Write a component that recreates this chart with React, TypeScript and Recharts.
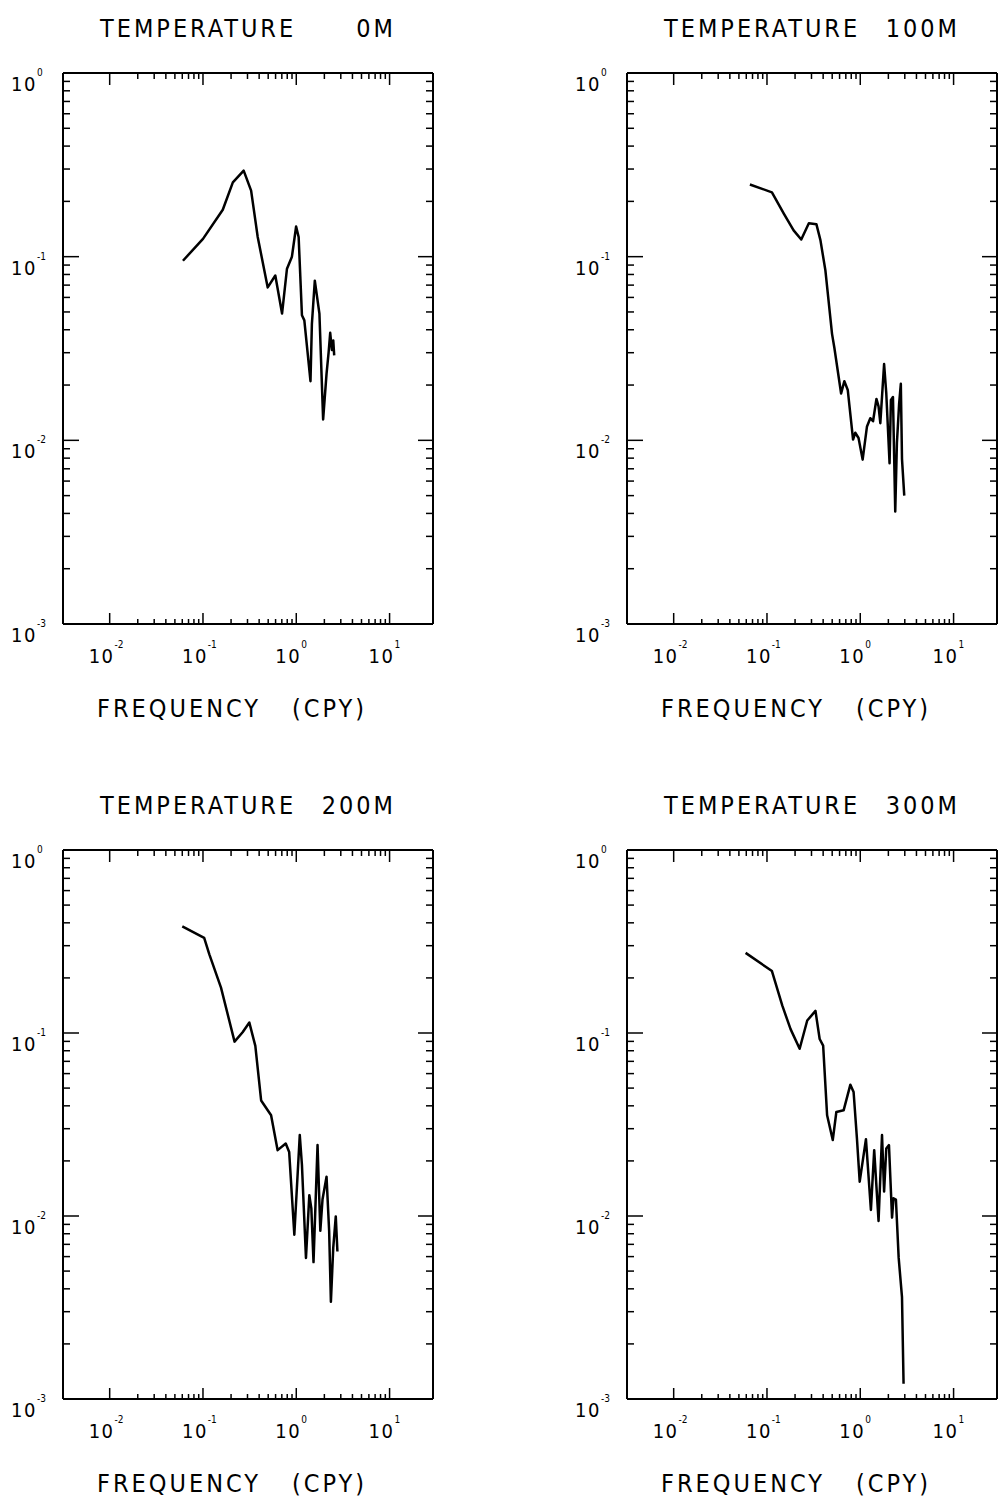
import React from "react";
import { LineChart, Line, XAxis, YAxis } from "recharts";

// log-log spectra of temperature at four depths, frequency in cycles per year
const FREQ_0M = [0.061, 0.1, 0.163, 0.209, 0.273, 0.328, 0.386, 0.494, 0.596, 0.704, 0.795, 0.898, 0.996, 1.06, 1.15, 1.22, 1.42, 1.47, 1.58, 1.77, 1.94, 2.11, 2.22, 2.31, 2.41, 2.49, 2.55];
const PSD_0M = [0.095, 0.125, 0.18, 0.254, 0.294, 0.229, 0.128, 0.068, 0.079, 0.049, 0.086, 0.1, 0.146, 0.128, 0.048, 0.045, 0.021, 0.043, 0.074, 0.049, 0.013, 0.023, 0.03, 0.0385, 0.031, 0.035, 0.029];

const FREQ_100M = [0.0656, 0.0888, 0.113, 0.152, 0.193, 0.233, 0.281, 0.339, 0.374, 0.423, 0.498, 0.527, 0.623, 0.675, 0.734, 0.837, 0.884, 0.958, 1.06, 1.18, 1.28, 1.37, 1.49, 1.57, 1.64, 1.8, 1.9, 2.06, 2.13, 2.24, 2.37, 2.47, 2.61, 2.72, 2.8, 2.96];
const PSD_100M = [0.247, 0.234, 0.224, 0.171, 0.139, 0.124, 0.152, 0.15, 0.123, 0.084, 0.038, 0.032, 0.018, 0.021, 0.0188, 0.0101, 0.011, 0.0103, 0.00785, 0.0119, 0.0132, 0.0127, 0.0168, 0.0153, 0.0124, 0.026, 0.018, 0.0075, 0.0166, 0.0172, 0.0041, 0.0097, 0.0159, 0.0203, 0.0079, 0.005];

const FREQ_200M = [0.06, 0.103, 0.117, 0.156, 0.218, 0.266, 0.314, 0.364, 0.42, 0.537, 0.631, 0.771, 0.839, 0.953, 1.09, 1.15, 1.27, 1.38, 1.45, 1.53, 1.69, 1.81, 1.91, 2.11, 2.25, 2.35, 2.49, 2.65, 2.76];
const PSD_200M = [0.383, 0.331, 0.269, 0.177, 0.0897, 0.101, 0.114, 0.085, 0.0428, 0.0355, 0.0229, 0.0249, 0.0224, 0.0079, 0.0277, 0.019, 0.0059, 0.013, 0.011, 0.0056, 0.0244, 0.0083, 0.0123, 0.0164, 0.0083, 0.0034, 0.0067, 0.00995, 0.0064];

const FREQ_300M = [0.059, 0.113, 0.146, 0.179, 0.224, 0.27, 0.331, 0.367, 0.4, 0.441, 0.507, 0.554, 0.663, 0.783, 0.848, 0.921, 0.986, 1.15, 1.3, 1.41, 1.57, 1.71, 1.8, 1.9, 2.03, 2.19, 2.27, 2.41, 2.58, 2.8, 2.91];
const PSD_300M = [0.274, 0.218, 0.141, 0.105, 0.082, 0.117, 0.132, 0.0927, 0.0853, 0.0355, 0.026, 0.037, 0.0378, 0.0522, 0.0476, 0.0265, 0.0154, 0.0263, 0.0108, 0.0229, 0.0094, 0.0277, 0.0136, 0.0234, 0.0244, 0.0098, 0.0125, 0.0123, 0.0059, 0.0036, 0.00121];

const X_DECADES = [0.01, 0.1, 1, 10];
const X_EXPONENTS = ["-2", "-1", "0", "1"];
const Y_DECADES = [1, 0.1, 0.01, 0.001];
const Y_EXPONENTS = ["0", "-1", "-2", "-3"];
const MINOR_STEPS = [2, 3, 4, 5, 6, 7, 8, 9];

const X_DOMAIN: [number, number] = [0.00316, 29.2];
const Y_DOMAIN: [number, number] = [0.001, 1];

const FONT = "'DejaVu Sans Condensed', 'DejaVu Sans', sans-serif";
const INK = "#000";

function withMinors(decades: number[]) {
  const out: number[] = [];
  const sorted = [...decades].sort((a, b) => a - b);
  sorted.forEach((d, i) => {
    out.push(d);
    if (i < sorted.length - 1) MINOR_STEPS.forEach((m) => out.push(d * m));
  });
  return out;
}

const X_TICKS = withMinors(X_DECADES);
const Y_TICKS = withMinors(Y_DECADES);

function exponentOf(v: number, decades: number[], labels: string[]) {
  const i = decades.findIndex((d) => Math.abs(v - d) / d < 1e-6);
  return i < 0 ? null : labels[i];
}

const Pow = ({ x, y, exp }: { x: number; y: number; exp: string }) => (
  <text x={x} y={y} fontFamily={FONT} fontSize={20} letterSpacing={1.5} fill={INK}>
    10
    <tspan dy={-15} fontSize={10} letterSpacing={0}>{exp}</tspan>
  </text>
);

const BottomTick = (p: any) => {
  const exp = exponentOf(p.payload.value, X_DECADES, X_EXPONENTS);
  return (
    <g>
      <line x1={p.x} x2={p.x} y1={p.y} y2={p.y - (exp ? 11 : 5)} stroke={INK} strokeWidth={1.5} />
      {exp && <Pow x={p.x - 21} y={p.y + 39} exp={exp} />}
    </g>
  );
};

const TopTick = (p: any) => {
  const exp = exponentOf(p.payload.value, X_DECADES, X_EXPONENTS);
  return <line x1={p.x} x2={p.x} y1={p.y} y2={p.y + (exp ? 12 : 6)} stroke={INK} strokeWidth={1.5} />;
};

const LeftTick = (p: any) => {
  const exp = exponentOf(p.payload.value, Y_DECADES, Y_EXPONENTS);
  return (
    <g>
      <line x1={p.x} x2={p.x + (exp ? 16 : 7)} y1={p.y} y2={p.y} stroke={INK} strokeWidth={1.5} />
      {exp && <Pow x={p.x - 52} y={p.y + 18} exp={exp} />}
    </g>
  );
};

const RightTick = (p: any) => {
  const exp = exponentOf(p.payload.value, Y_DECADES, Y_EXPONENTS);
  return <line x1={p.x} x2={p.x - (exp ? 15 : 7)} y1={p.y} y2={p.y} stroke={INK} strokeWidth={1.5} />;
};

const CHART_W = 436;
const PLOT_TOP = 73;
const BOTTOM_AXIS_H = 60;

function Panel({ depth, freq, psd, left, top, plotH }: {
  depth: string; freq: number[]; psd: number[]; left: number; top: number; plotH: number;
}) {
  const data = freq.map((f, i) => ({ f, p: psd[i] }));
  const chartH = PLOT_TOP + plotH + BOTTOM_AXIS_H;
  const plotBottom = PLOT_TOP + plotH;
  const overlayH = plotBottom + 110;
  const axisLine = { stroke: INK, strokeWidth: 2 };
  const textStyle = { fontFamily: FONT, fontSize: 25, letterSpacing: 3, fill: INK };
  return (
    <div style={{ position: "absolute", left, top, width: CHART_W, height: overlayH }}>
      <LineChart width={CHART_W} height={chartH} data={data} margin={{ top: PLOT_TOP - 10, right: 0, bottom: 0, left: 13 }}>
        <XAxis xAxisId="b" dataKey="f" type="number" scale="log" domain={X_DOMAIN} allowDataOverflow
          ticks={X_TICKS} interval={0} tickSize={0} tickMargin={0} tickLine={false} axisLine={axisLine}
          height={BOTTOM_AXIS_H} tick={(p: any) => <BottomTick {...p} />} />
        <XAxis xAxisId="t" orientation="top" dataKey="f" type="number" scale="log" domain={X_DOMAIN} allowDataOverflow
          ticks={X_TICKS} interval={0} tickSize={0} tickMargin={0} tickLine={false} axisLine={axisLine}
          height={10} tick={(p: any) => <TopTick {...p} />} />
        <YAxis yAxisId="l" type="number" scale="log" domain={Y_DOMAIN} allowDataOverflow
          ticks={Y_TICKS} interval={0} tickSize={0} tickMargin={0} tickLine={false} axisLine={axisLine}
          width={50} tick={(p: any) => <LeftTick {...p} />} />
        <YAxis yAxisId="r" orientation="right" type="number" scale="log" domain={Y_DOMAIN} allowDataOverflow
          ticks={Y_TICKS} interval={0} tickSize={0} tickMargin={0} tickLine={false} axisLine={axisLine}
          width={3} tick={(p: any) => <RightTick {...p} />} />
        <Line xAxisId="b" yAxisId="l" type="linear" dataKey="p" stroke={INK} strokeWidth={2.5}
          strokeLinejoin="round" dot={false} isAnimationActive={false} />
      </LineChart>
      <svg width={CHART_W} height={overlayH} style={{ position: "absolute", left: 0, top: 0, pointerEvents: "none" }}>
        <text x={100} y={37} {...textStyle}>TEMPERATURE</text>
        <text x={396} y={37} textAnchor="end" {...textStyle}>{depth}</text>
        <text x={97} y={plotBottom + 93} {...textStyle}>FREQUENCY</text>
        <text x={367} y={plotBottom + 93} textAnchor="end" {...textStyle}>(CPY)</text>
      </svg>
    </div>
  );
}

export default function App() {
  return (
    <div style={{ position: "absolute", left: 0, top: 0, width: 1002, height: 1501, background: "#fff", overflow: "hidden" }}>
      <Panel depth="0M" freq={FREQ_0M} psd={PSD_0M} left={0} top={0} plotH={551} />
      <Panel depth="100M" freq={FREQ_100M} psd={PSD_100M} left={564} top={0} plotH={551} />
      <Panel depth="200M" freq={FREQ_200M} psd={PSD_200M} left={0} top={777} plotH={549} />
      <Panel depth="300M" freq={FREQ_300M} psd={PSD_300M} left={564} top={777} plotH={549} />
    </div>
  );
}
